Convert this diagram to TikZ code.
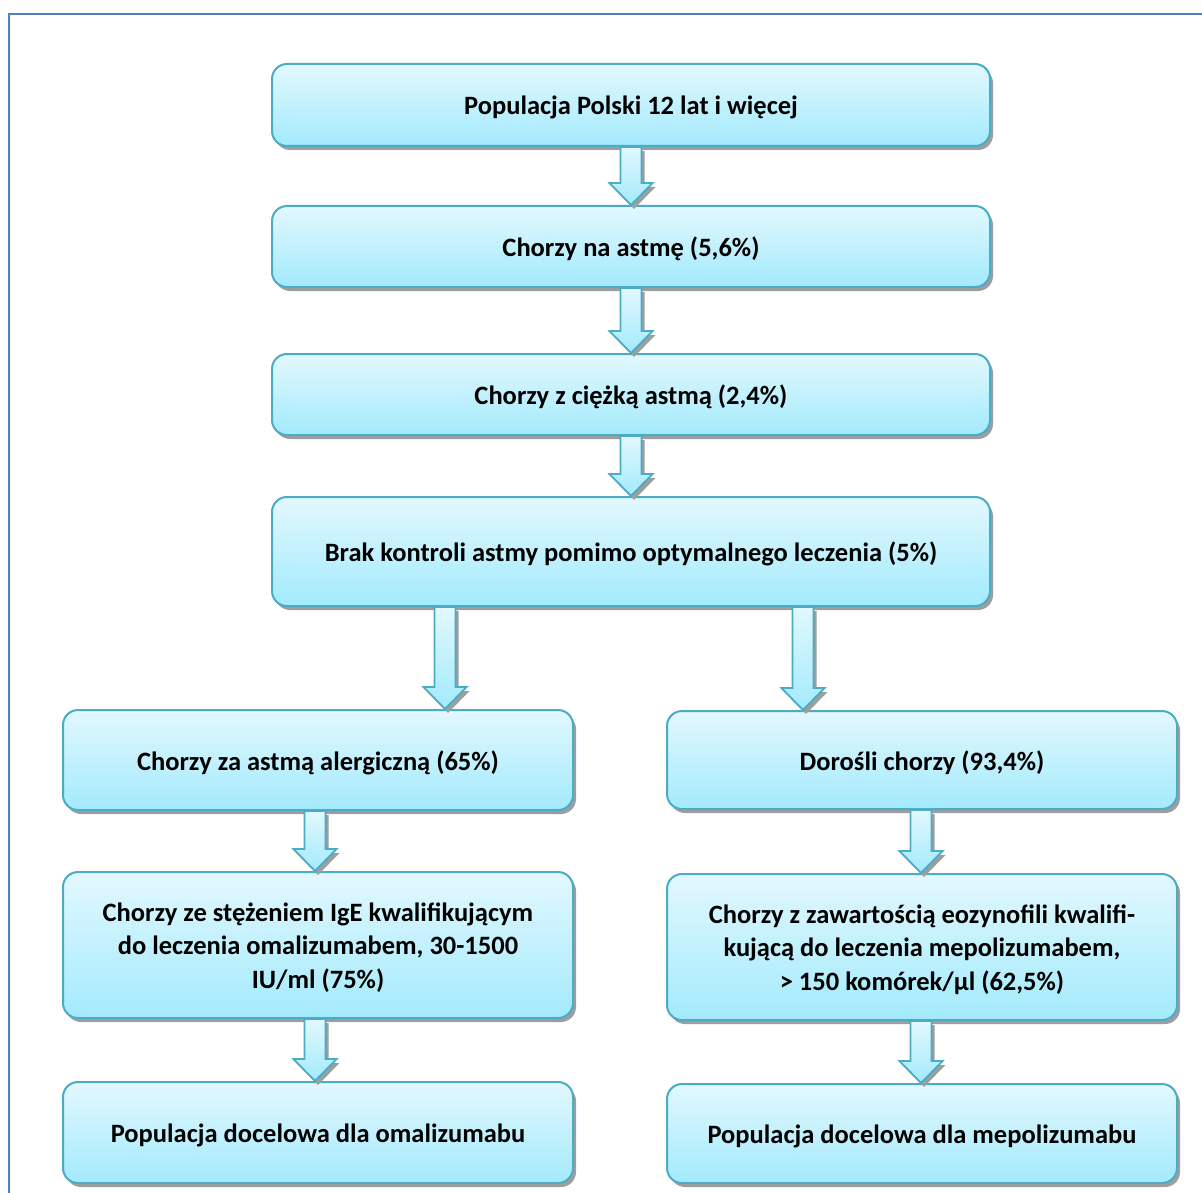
\documentclass[tikz,border=0pt]{standalone}
\usepackage{fontspec}
\setmainfont{Carlito}
\usetikzlibrary{calc,shadows}
\definecolor{bordc}{HTML}{4BACC6}
\definecolor{topc}{HTML}{E2F8FE}
\definecolor{botc}{HTML}{A3EAFC}
\definecolor{framec}{HTML}{4F81BD}
\tikzset{
  boxst/.style={draw=bordc, line width=2pt, rounded corners=15pt,
    top color=topc, bottom color=botc, inner sep=0pt,
    drop shadow={shadow xshift=3pt, shadow yshift=-4pt, fill=black!38, opacity=1}},
  boxtext/.style={align=center, inner sep=0pt, yshift=-2.5pt,
    font=\fontsize{26.5}{33.5}\selectfont\bfseries},
  barrowst/.style={draw=bordc, line width=1.8pt, line join=miter,
    top color=topc, bottom color=botc,
    drop shadow={shadow xshift=3pt, shadow yshift=-4pt, fill=black!38, opacity=1}}
}
\newcommand{\barrow}[2]{%
  \path[barrowst] let \p1=(#1), \p2=(#2) in
    (\x1-10.5pt,\y1) -- (\x1+10.5pt,\y1) -- (\x1+10.5pt,\y2+22pt) -- (\x1+21.5pt,\y2+22pt)
    -- (\x1,\y2) -- (\x1-21.5pt,\y2+22pt) -- (\x1-10.5pt,\y2+22pt) -- cycle;}
\begin{document}
\begin{tikzpicture}[x=1pt,y=-1pt]
\useasboundingbox (0,0) rectangle (1202,1193);
\fill[white] (0,0) rectangle (1202,1193);
\draw[framec, line width=2pt] (1202,14.5) -- (8.5,14.5) -- (8.5,1193);

\node[boxst, minimum width=718pt, minimum height=82pt,
  label={[boxtext]center:Populacja Polski 12 lat i więcej}] (b1) at (631,105) {};
\node[boxst, minimum width=718pt, minimum height=81pt,
  label={[boxtext]center:Chorzy na astmę (5,6\%)}] (b2) at (631,246.5) {};
\node[boxst, minimum width=718pt, minimum height=81pt,
  label={[boxtext]center:Chorzy z ciężką astmą (2,4\%)}] (b3) at (631,394.5) {};
\node[boxst, minimum width=718pt, minimum height=109pt,
  label={[boxtext]center:Brak kontroli astmy pomimo optymalnego leczenia (5\%)}] (b4) at (631,551.5) {};
\node[boxst, minimum width=510pt, minimum height=100pt,
  label={[boxtext]center:Chorzy za astmą alergiczną (65\%)}] (b5l) at (318,760) {};
\node[boxst, minimum width=510pt, minimum height=98pt,
  label={[boxtext]center:Dorośli chorzy (93,4\%)}] (b5r) at (922,760) {};
\node[boxst, minimum width=510pt, minimum height=146pt,
  label={[boxtext]center:Chorzy ze stężeniem IgE kwalifikującym\\do leczenia omalizumabem, 30-1500\\IU/ml (75\%)}] (b6l) at (318,945) {};
\node[boxst, minimum width=510pt, minimum height=146pt,
  label={[boxtext]center:Chorzy z zawartością eozynofili kwalifi-\\kującą do leczenia mepolizumabem,\\> 150 komórek/µl (62,5\%)}] (b6r) at (922,947) {};
\node[boxst, minimum width=510pt, minimum height=101pt,
  label={[boxtext]center:Populacja docelowa dla omalizumabu}] (b7l) at (318,1132.5) {};
\node[boxst, minimum width=510pt, minimum height=99pt,
  label={[boxtext]center:Populacja docelowa dla mepolizumabu}] (b7r) at (922,1133.5) {};

\barrow{b1.south}{b2.north}
\barrow{b2.south}{b3.north}
\barrow{b3.south}{b4.north}
\barrow{$(b4.south)+(-186,0)$}{b5l.north}
\barrow{$(b4.south)+(172,0)$}{b5r.north}
\barrow{$(b5l.south)+(-3,0)$}{b6l.north}
\barrow{$(b5r.south)+(-1,0)$}{b6r.north}
\barrow{$(b6l.south)+(-3,0)$}{b7l.north}
\barrow{$(b6r.south)+(-1,0)$}{b7r.north}
\end{tikzpicture}
\end{document}
